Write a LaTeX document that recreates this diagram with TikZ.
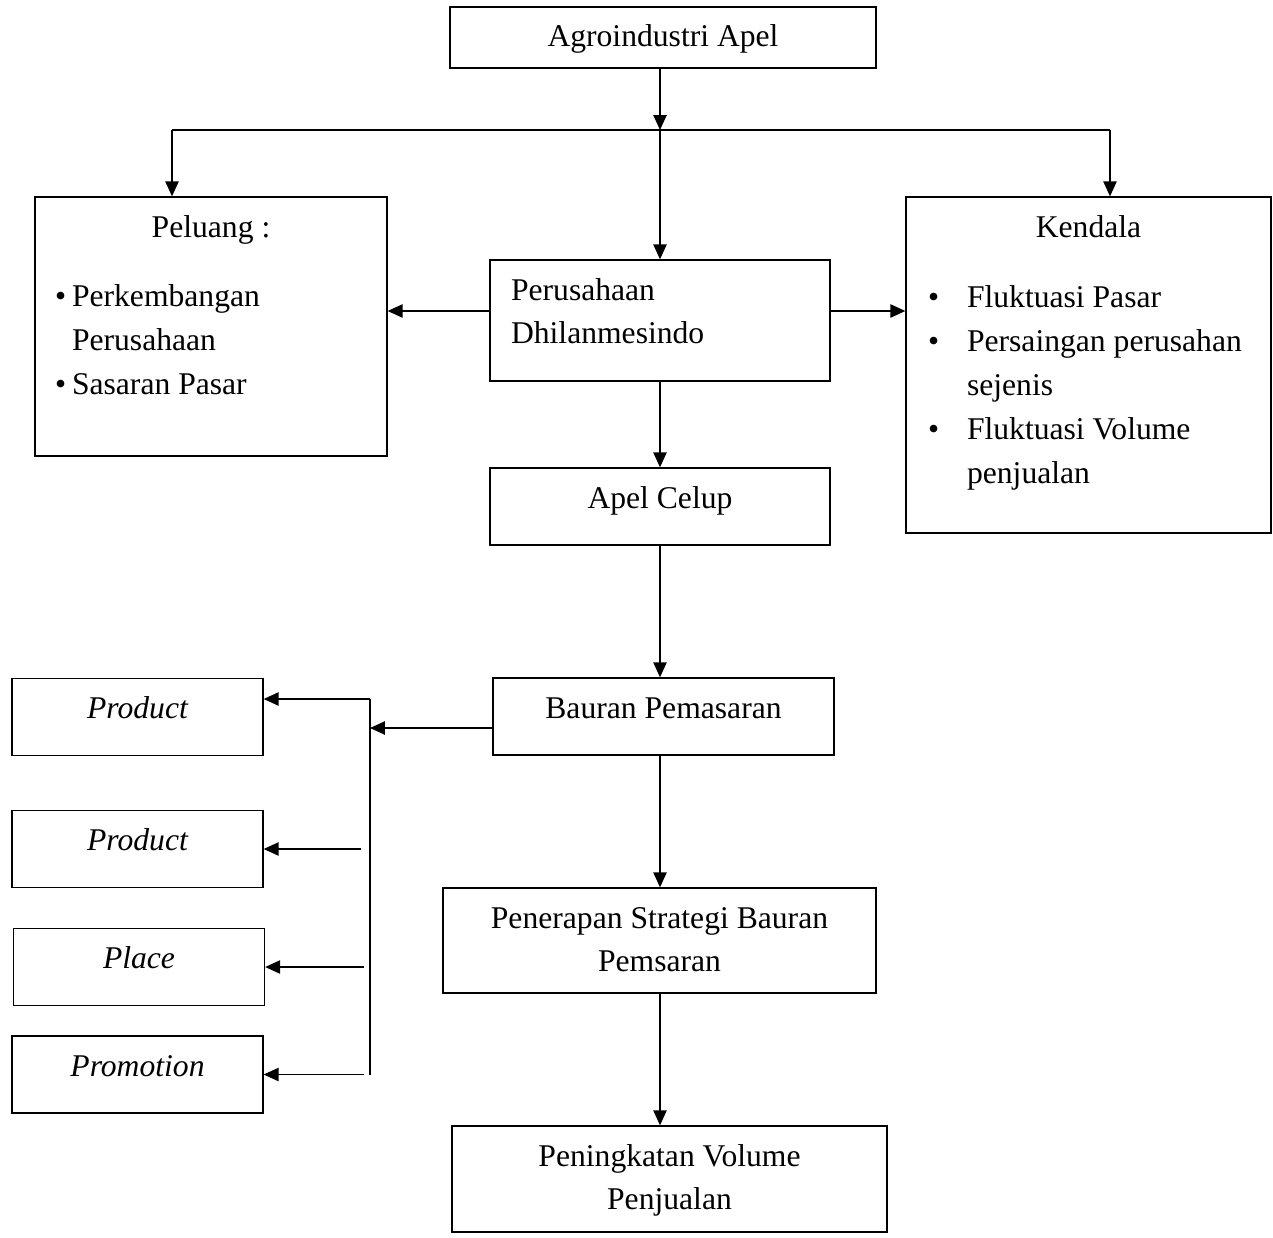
\documentclass[tikz,border=0pt]{standalone}
\usepackage{fontspec}
\setmainfont{Liberation Serif}
\usepackage{tikz}
\usetikzlibrary{arrows.meta}

\begin{document}
\begin{tikzpicture}[x=0.02cm, y=-0.02cm, >={Triangle[length=8.5pt,width=7.5pt]},
  every node/.style={font=\fontsize{18}{25}\selectfont},
  box/.style={draw, fill=white, line width=0.75pt, inner xsep=0.2cm, inner ysep=0.1cm, text height=0.44cm, align=flush center},
  pbox/.style={box, minimum width=5.02cm, minimum height=1.54cm, text width=4.62cm, text depth=0.38cm, font=\fontsize{18}{25}\selectfont\itshape},
  conn/.style={->, line width=1pt}]
\useasboundingbox (0,0) rectangle (1273,1237);

\node[box, minimum width=8.52cm, minimum height=1.22cm, text width=8.12cm, text depth=0.06cm] (agro) at (663,37.5) {Agroindustri Apel};
\node[box, minimum width=7.04cm, minimum height=5.18cm, inner xsep=0.4cm, text width=6.24cm, text depth=4.02cm, align=flush left] (peluang) at (211,326.5)
  {{\centering Peluang :\par}\vspace{0.52cm}
   \hangindent=0.34cm\makebox[0.34cm][l]{\textbullet}Perkembangan\newline Perusahaan\par
   \hangindent=0.34cm\makebox[0.34cm][l]{\textbullet}Sasaran Pasar\par};
\node[box, minimum width=7.3cm, minimum height=6.72cm, inner xsep=0.44cm, text width=6.42cm, text depth=5.56cm, align=flush left] (kendala) at (1088.5,365)
  {{\centering Kendala\par}\vspace{0.54cm}
   \hangindent=0.78cm\makebox[0.78cm][l]{\textbullet}Fluktuasi Pasar\par
   \hangindent=0.78cm\makebox[0.78cm][l]{\textbullet}Persaingan perusahan\newline sejenis\par
   \hangindent=0.78cm\makebox[0.78cm][l]{\textbullet}Fluktuasi Volume\newline penjualan\par};
\node[box, minimum width=6.8cm, minimum height=2.42cm, inner xsep=0.42cm, text width=5.96cm, text depth=1.26cm, align=flush left] (perusahaan) at (660,320.5) {Perusahaan\\Dhilanmesindo};
\node[box, minimum width=6.8cm, minimum height=1.54cm, text width=6.4cm, text depth=0.38cm] (apel) at (660,506.5) {Apel Celup};
\node[box, minimum width=6.82cm, minimum height=1.54cm, text width=6.42cm, text depth=0.38cm] (bauran) at (663.5,716.5) {Bauran Pemasaran};
\node[box, minimum width=8.66cm, minimum height=2.1cm, text width=8.26cm, text depth=0.94cm] (penerapan) at (659.5,940.5) {Penerapan Strategi Bauran\\Pemsaran};
\node[box, minimum width=8.7cm, minimum height=2.12cm, text width=8.3cm, text depth=0.96cm] (peningkatan) at (669.5,1179) {Peningkatan Volume\\Penjualan};

\node[pbox] (product) at (137.5,717) {Product};
\node[pbox] (productb) at (137.5,849) {Product};
\node[pbox] (place) at (139,967) {Place};
\node[pbox] (promotion) at (137.5,1074.5) {Promotion};

\coordinate (split) at (660,130);
\coordinate (splitl) at (172,130);
\coordinate (splitr) at (1110,130);
\coordinate (bus) at (370,699);

\draw[conn] (agro.south -| split) -- (split);
\draw[line width=1pt] (splitl) -- (splitr);
\draw[conn] (split) -- (perusahaan);
\draw[conn] (splitl) -- (splitl |- peluang.north);
\draw[conn] (splitr) -- (splitr |- kendala.north);
\draw[conn] ([yshift=0.19cm]perusahaan.west) -- ([yshift=0.19cm]perusahaan.west -| peluang.east);
\draw[conn] ([yshift=0.19cm]perusahaan.east) -- ([yshift=0.19cm]perusahaan.east -| kendala.west);
\draw[conn] (perusahaan) -- (apel);
\draw[conn] (apel.south) -- (apel.south |- bauran.north);
\draw[conn] (bauran.south -| apel) -- (penerapan.north -| apel);
\draw[conn] (penerapan.south -| apel) -- (peningkatan.north -| apel);

\draw[line width=1pt] (bus) -- (bus |- promotion);
\draw[conn] ([yshift=-0.23cm]bauran.west) -- ([yshift=-0.23cm]bauran.west -| bus);
\draw[conn] (bus) -- (bus -| product.east);
\draw[conn] ([xshift=-0.18cm]bus |- productb) -- (productb);
\draw[conn] ([xshift=-0.12cm]bus |- place) -- (place);
\draw[conn] ([xshift=-0.12cm]bus |- promotion) -- (promotion);
\end{tikzpicture}
\end{document}
